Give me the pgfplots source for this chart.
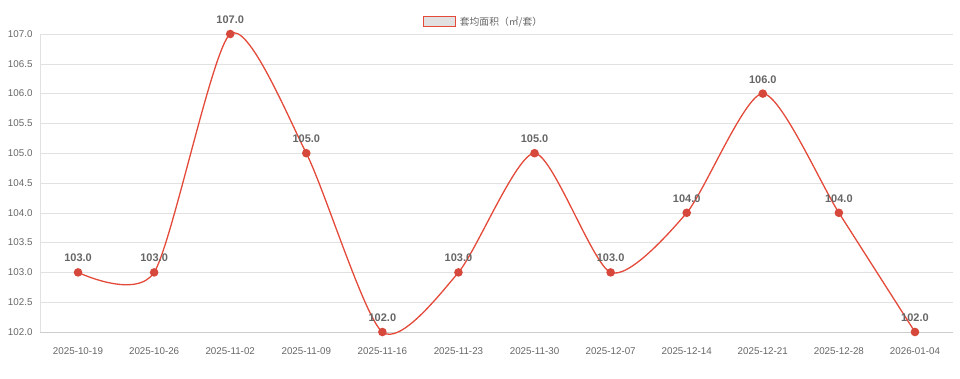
\documentclass[border=0pt]{standalone}
\usepackage{pgfplots}
\pgfplotsset{compat=1.18}
\usepackage{fontspec}
\setmainfont{Liberation Sans}
\newfontfamily\cjk{Noto Sans CJK SC}
\definecolor{lred}{RGB}{228,74,58}
\definecolor{mred}{RGB}{214,72,60}
\definecolor{tgray}{RGB}{102,102,102}
\definecolor{lgray}{RGB}{225,225,225}
\definecolor{agray}{RGB}{205,205,205}
\begin{document}
\begin{tikzpicture}[x=1pt,y=1pt]
\useasboundingbox (0,0) rectangle (960,378);
\begin{axis}[
  at={(40pt,46pt)}, anchor=south west,
  scale only axis, width=913pt, height=298pt,
  xmin=-0.5, xmax=11.5, ymin=102, ymax=107,
  xtick={0,...,11},
  xticklabels={2025-10-19,2025-10-26,2025-11-02,2025-11-09,2025-11-16,2025-11-23,2025-11-30,2025-12-07,2025-12-14,2025-12-21,2025-12-28,2026-01-04},
  ytick={102,102.5,...,107},
  yticklabel={\pgfmathprintnumber[fixed,fixed zerofill,precision=1]{\tick}},
  /pgf/number format/assume math mode=true,
  ticklabel style={font=\fontsize{9.8}{11}\selectfont, text=tgray},
  xticklabel style={yshift=-12pt},
  yticklabel style={xshift=-4pt},
  major tick length=0pt,
  ymajorgrids, major grid style={lgray, line width=0.6pt},
  axis x line*=bottom, axis y line*=left,
  x axis line style={agray, line width=0.8pt},
  y axis line style={lgray, line width=0.6pt},
  clip=false,
  legend style={at={(0.5,1)}, anchor=south, yshift=5pt, xshift=-12pt, draw=none, fill=none,
    font=\cjk\fontsize{9.8}{11}\selectfont, text=tgray, inner sep=0pt,
    nodes={inner xsep=4pt}},
  legend image code/.code={\draw[lred, line width=1pt, fill=lgray] (0pt,-4.8pt) rectangle (32pt,4.8pt);},
  nodes near coords={\pgfmathprintnumber[fixed,fixed zerofill,precision=1]{\pgfplotspointmeta}},
  every node near coord/.append style={font=\bfseries\fontsize{11}{13}\selectfont, text=tgray, yshift=6.5pt},
]
\addplot[lred, line width=1.3pt, smooth, tension=0.42, mark=*, mark size=3.6pt, mark options={fill=mred, draw=mred}]
  coordinates {(0,103) (1,103) (2,107) (3,105) (4,102) (5,103) (6,105) (7,103) (8,104) (9,106) (10,104) (11,102)};
\addlegendentry{套均面积（㎡/套）}
\end{axis}
\end{tikzpicture}
\end{document}
